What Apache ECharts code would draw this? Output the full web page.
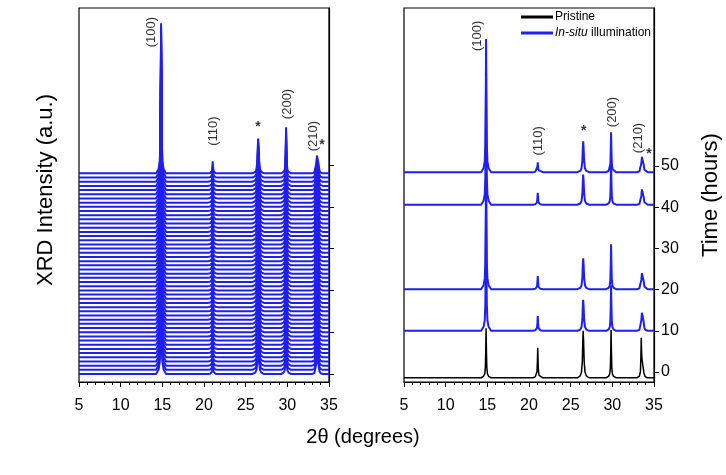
<!DOCTYPE html>
<html>
<head>
<meta charset="utf-8">
<script src="https://cdn.jsdelivr.net/npm/echarts@6/dist/echarts.min.js"></script>
<style>html,body{margin:0;padding:0;background:#fff}#main{width:726px;height:475px}</style>
</head>
<body>
<div id="main"></div>
<script>
// peak positions (2θ, degrees) and which line shape each one uses
var peakPos = [14.85, 21.05, 26.5, 29.85, 33.55];
// line shapes: [offset in 2θ, fraction of peak height]
var sharpShape = [[-0.6,0],[-0.3,0.03],[-0.16,0.08],[-0.09,0.2],[-0.04,0.55],[0,1],[0.04,0.55],[0.09,0.2],[0.16,0.08],[0.3,0.03],[0.6,0]];
var broadShape = [[-0.7,0],[-0.35,0.04],[-0.2,0.12],[-0.1,0.35],[-0.04,0.8],[0,1],[0.05,0.8],[0.12,0.35],[0.22,0.12],[0.38,0.04],[0.7,0]];
var doubletShape = [[-0.6,0],[-0.3,0.05],[-0.16,0.15],[-0.07,0.55],[0,0.95],[0.06,1],[0.13,0.9],[0.2,0.5],[0.3,0.15],[0.45,0.04],[0.7,0]];
var pristineDoublet = [[-0.6,0],[-0.3,0.04],[-0.18,0.15],[-0.12,0.55],[-0.08,1],[-0.03,0.6],[0.02,0.45],[0.08,0.5],[0.14,0.4],[0.24,0.12],[0.38,0.03],[0.65,0]];
var insituShapes = [sharpShape, sharpShape, broadShape, sharpShape, doubletShape];
var pristineShapes = [sharpShape, sharpShape, broadShape, sharpShape, pristineDoublet];

// left panel: stacked patterns (one per hour)
var leftOffsets = [0,1,2,3,4,5,6,7,8,9,10,11,12,13,14,15,16,17,18,19,20,21,22,23,24,25,26,27,28,29,30,31,32,33,34,35,36,37,38,39,40,41,42,43,44,45,46,47,48];
var leftHeights = [35.9, 2.9, 8.3, 11, 4.5];

// right panel
var pristineBase = -1.4;
var pristineHeights = [12, 7.3, 11.4, 11.6, 9.7];
var insituBase = [10, 20.1, 40.6, 48.5];
var insituHeights = [
    [32, 3.6, 7.5, 11, 4.6],
    [32, 3.2, 7.5, 10.9, 4.1],
    [32, 2.9, 7.3, 10.5, 3.9],
    [32.3, 2.4, 7.5, 9.7, 3.9]
];
var timeTicks = [0, 10, 20, 30, 40, 50];

// peak labels
var hkl = ['(100)', '(110)', '*', '(200)', '(210)', '*'];
var leftLabelPos = [[13.64,81.8],[21.08,58.1],[26.48,59.1],[29.96,64.6],[33.08,56.9],[34.16,54.8]];
var rightLabelPos = [[13.8,81.6],[21.14,56.1],[26.57,58.5],[30.06,63.1],[33.19,56.8],[34.4,52.9]];

var blue = '#1f1ff0';

function trace(base, heights, shapes) {
    var pts = [[5, base]];
    peakPos.forEach(function (p, i) {
        shapes[i].forEach(function (s) {
            pts.push([p + s[0], base + heights[i] * s[1]]);
        });
    });
    pts.push([35, base]);
    return pts;
}

function labelSeries(idx, pos) {
    return {
        type: 'scatter', xAxisIndex: idx, yAxisIndex: idx, silent: true,
        symbolSize: 1, itemStyle: {color: 'rgba(0,0,0,0)'},
        data: pos.map(function (p, i) {
            var star = hkl[i] === '*';
            return {
                value: p,
                label: {
                    show: true, position: 'inside', formatter: hkl[i],
                    rotate: star ? 0 : 90, color: '#000',
                    fontSize: star ? 14 : 13, fontWeight: star ? 'bold' : 'normal'
                }
            };
        })
    };
}

var series = [];
leftOffsets.forEach(function (o) {
    series.push({
        name: 'In-situ illumination', type: 'line', xAxisIndex: 0, yAxisIndex: 0,
        symbol: 'none', lineStyle: {color: blue, width: 2}, itemStyle: {color: blue},
        data: trace(o, leftHeights, insituShapes)
    });
});
series.push({
    name: 'Pristine', type: 'line', xAxisIndex: 1, yAxisIndex: 1,
    symbol: 'none', lineStyle: {color: '#000', width: 1.5}, itemStyle: {color: '#000'},
    data: trace(pristineBase, pristineHeights, pristineShapes)
});
insituBase.forEach(function (b, k) {
    series.push({
        name: 'In-situ illumination', type: 'line', xAxisIndex: 1, yAxisIndex: 1,
        symbol: 'none', lineStyle: {color: blue, width: 2}, itemStyle: {color: blue},
        data: trace(b, insituHeights[k], insituShapes)
    });
});
series.push(labelSeries(0, leftLabelPos));
series.push(labelSeries(1, rightLabelPos));

function xAxisFor(idx) {
    return {
        type: 'value', gridIndex: idx, min: 5, max: 35, interval: 5,
        axisLine: {onZero: false, lineStyle: {color: '#000', width: 1.2}},
        axisTick: {length: 5, lineStyle: {color: '#000'}},
        minorTick: {show: true, splitNumber: 5, length: 3, lineStyle: {color: '#000'}},
        splitLine: {show: false},
        axisLabel: {color: '#000', fontSize: 16, margin: 16}
    };
}

var chart = echarts.init(document.getElementById('main'));
chart.setOption({
    animation: false,
    textStyle: {fontFamily: 'Liberation Sans, Arial, sans-serif'},
    grid: [
        {left: 79, top: 8, width: 250, height: 374, show: true, borderColor: '#000', borderWidth: 1.2},
        {left: 404, top: 8, width: 250, height: 374, show: true, borderColor: '#000', borderWidth: 1.2}
    ],
    xAxis: [xAxisFor(0), xAxisFor(1)],
    yAxis: [
        {
            type: 'value', gridIndex: 0, position: 'right', min: -1.91, max: 87.56,
            axisLine: {show: true, onZero: false, lineStyle: {color: '#000', width: 1.2}},
            axisTick: {show: true, length: 5, customValues: timeTicks, lineStyle: {color: '#000'}},
            axisLabel: {show: false},
            splitLine: {show: false}
        },
        {
            type: 'value', gridIndex: 1, position: 'right', min: -2.43, max: 88.35,
            axisLine: {show: true, onZero: false, lineStyle: {color: '#000', width: 1.2}},
            axisTick: {show: true, length: 5, customValues: timeTicks, lineStyle: {color: '#000'}},
            axisLabel: {color: '#000', fontSize: 16, margin: 7, customValues: timeTicks},
            splitLine: {show: false}
        }
    ],
    legend: {
        data: ['Pristine', 'In-situ illumination'],
        orient: 'vertical', left: 521, top: 11, itemGap: 4, padding: 0,
        icon: 'rect', itemWidth: 32, itemHeight: 3,
        formatter: function (name) {
            return name === 'In-situ illumination' ? '{i|In-situ} illumination' : name;
        },
        textStyle: {color: '#000', fontSize: 12, padding: [0, 0, 0, -3],
            rich: {i: {fontStyle: 'italic', fontSize: 12, color: '#000'}}}
    },
    graphic: [
        {type: 'text', x: 46, y: 190, rotation: Math.PI / 2,
            style: {text: 'XRD Intensity (a.u.)', fontSize: 22, fontFamily: 'Liberation Sans', fill: '#000', align: 'center', verticalAlign: 'middle'}},
        {type: 'text', x: 711, y: 195, rotation: Math.PI / 2,
            style: {text: 'Time (hours)', fontSize: 22, fontFamily: 'Liberation Sans', fill: '#000', align: 'center', verticalAlign: 'middle'}},
        {type: 'text', x: 363, y: 437,
            style: {text: '2θ (degrees)', fontSize: 20, fontFamily: 'Liberation Sans', fill: '#000', align: 'center', verticalAlign: 'middle'}}
    ],
    series: series
});
</script>
</body>
</html>
